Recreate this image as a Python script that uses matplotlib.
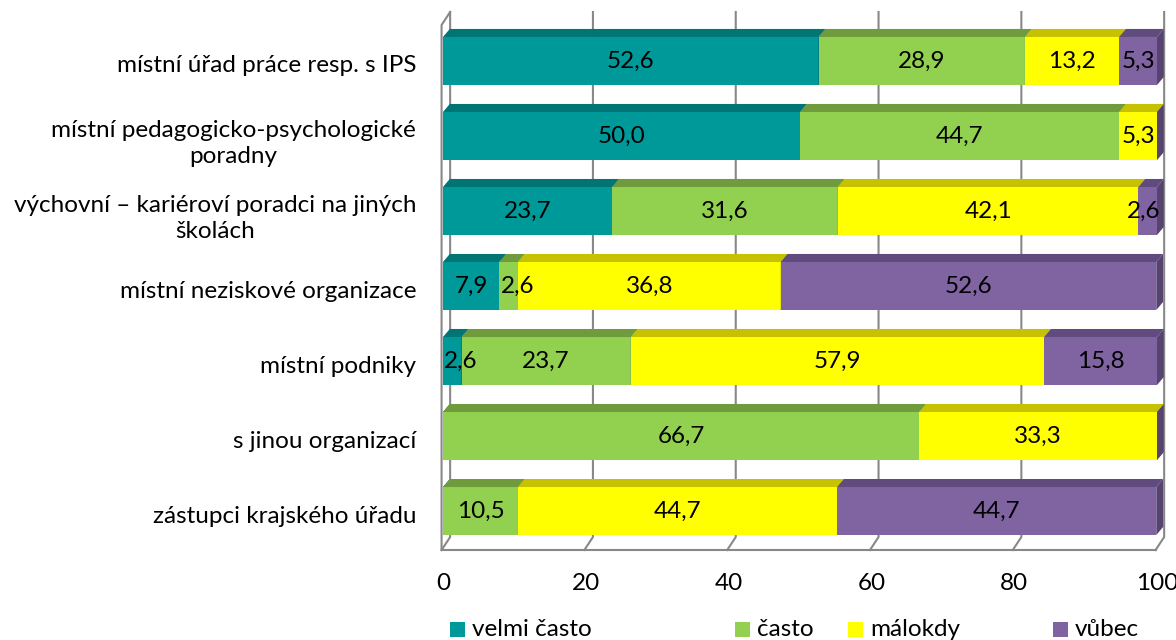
import numpy as np
import matplotlib
matplotlib.use('Agg')
from matplotlib import pyplot as plt
from matplotlib.patches import Polygon, Rectangle

plt.rcParams['font.family'] = ['Lato', 'DejaVu Sans']

categories = ['místní úřad práce resp. s IPS',
              'místní pedagogicko-psychologické\nporadny',
              'výchovní – kariéroví poradci na jiných\nškolách',
              'místní neziskové organizace',
              'místní podniky',
              's jinou organizací',
              'zástupci krajského úřadu']
series = ['velmi často', 'často', 'málokdy', 'vůbec']
velmi_casto = [52.6, 50.0, 23.7, 7.9, 2.6, 0, 0]
casto = [28.9, 44.7, 31.6, 2.6, 23.7, 66.7, 10.5]
malokdy = [13.2, 5.3, 42.1, 36.8, 57.9, 33.3, 44.7]
vubec = [5.3, 0, 2.6, 52.6, 15.8, 0, 44.7]
xticks = [0, 20, 40, 60, 80, 100]

front = ['#009999', '#92D050', '#FFFF00', '#8064A2']
top = ['#017474', '#6F9B3D', '#C6C200', '#604B7E']
side = ['#016666', '#628a35', '#b0ac00', '#56436F']
fs = 17.5

fig = plt.figure(figsize=(11.76, 6.4), dpi=100)
ax = fig.add_axes([430/1176, 80/640, 746/1176, 560/640])
ax.set_xlim(-1.82, 102.66)
ax.set_ylim(6.653, -0.813)
for s in ax.spines.values():
    s.set_visible(False)

# walls / floor (3d look)
grid_c = '#888888'
floor_front, floor_back, wall_top = 6.52, 6.347, -0.653
for k in xticks:
    ax.plot([k + 1.0, k + 1.0, k - 0.2], [wall_top, floor_back, floor_front],
            color=grid_c, lw=1.5, zorder=0, clip_on=False)
ax.plot([-0.2, 99.8], [floor_front, floor_front], color=grid_c, lw=1.5, zorder=0, clip_on=False)
ax.plot([1.0, -0.2, -0.2], [wall_top, -0.48, floor_front], color=grid_c, lw=1.5, zorder=0, clip_on=False)

rows = np.arange(len(categories))
h = 0.64
dx, dy = 0.95, 0.107
data = [velmi_casto, casto, malokdy, vubec]
left = np.zeros(len(categories))
z = 2
for i, vals in enumerate(data):
    vals = np.array(vals)
    ax.barh(rows, vals, left=left, height=h, color=front[i], zorder=z)
    for r in rows:
        l, w = left[r], vals[r]
        yt, yb = r - h / 2, r + h / 2
        if w > 0:
            ax.add_patch(Polygon([(l, yt), (l + dx, yt - dy), (l + w + dx, yt - dy), (l + w, yt)],
                                 closed=True, facecolor=top[i], edgecolor='none', zorder=z))
        ax.add_patch(Polygon([(l + w, yt), (l + w + dx, yt - dy), (l + w + dx, yb - dy), (l + w, yb)],
                             closed=True, facecolor=side[i], edgecolor='none', zorder=z))
        if w > 0:
            cx = l + w / 2
            if w < 4 and l < 50:
                cx += 1.2
            elif w < 4:
                cx -= 0.6
            ax.text(cx, r, f'{w:.1f}'.replace('.', ','), ha='center', va='center',
                    fontsize=fs, color='black', zorder=50)
    left = left + vals
    z += 1

ax.set_xticks(xticks)
ax.set_xticklabels([str(t) for t in xticks], fontsize=fs)
ax.set_yticks(rows + 0.04)
ax.set_yticklabels(categories, fontsize=fs)
for t in ax.get_yticklabels():
    t.set_multialignment('center')
    t.set_linespacing(1.3)
ax.tick_params(axis='x', length=0, pad=9)
ax.tick_params(axis='y', length=0, pad=10)

# legend
leg_x = [450, 735, 848, 1053]
for i, name in enumerate(series):
    fig.add_artist(Rectangle((leg_x[i] / 1176, 1 - 637 / 640), 15 / 1176, 15 / 640,
                             transform=fig.transFigure, facecolor=front[i], edgecolor='none'))
    fig.text((leg_x[i] + 22) / 1176, 1 - 630 / 640, name, fontsize=fs, va='center', ha='left')

fig.savefig('out.png', dpi=100)
